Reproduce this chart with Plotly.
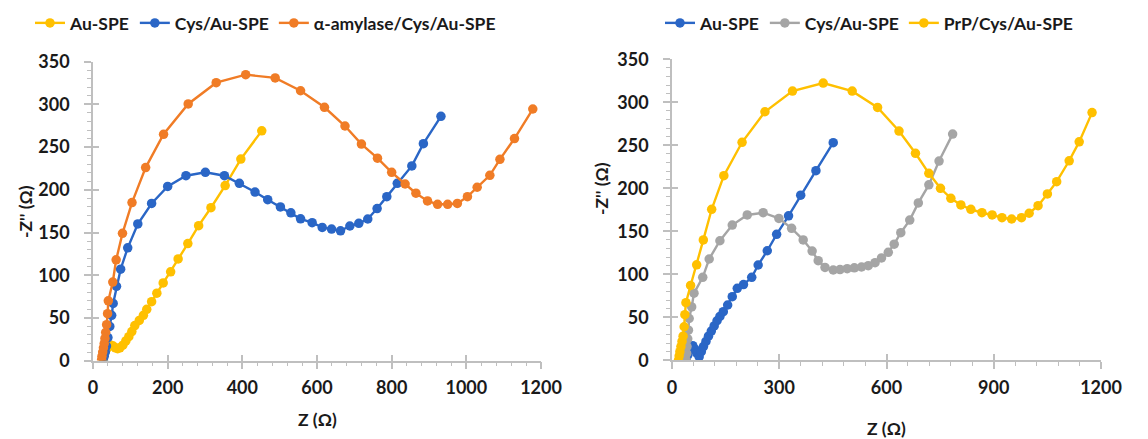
import plotly.graph_objects as go

# ---------------- data (left panel) ----------------
L_au_x = [27, 28, 30, 33, 37, 42, 48, 54, 60, 66, 72, 80, 88, 96, 104, 112, 124, 135, 144, 157, 171, 188, 208, 228, 254, 283, 316, 354, 396, 452]
L_au_y = [0, 3, 7, 11, 14, 17, 18, 17, 15, 14, 15, 18, 23, 28, 34, 41, 47, 53, 60, 69, 79, 91, 104, 119, 137, 158, 179, 205, 236, 269]

L_cys_x = [28, 30, 33, 36, 40, 45, 50, 54, 63, 74, 93, 120, 157, 200, 249, 301, 352, 392, 434, 468, 502, 530, 556, 587, 614, 639, 663, 688, 712, 736, 761, 787, 815, 854, 885, 932]
L_cys_y = [0, 5, 10, 17, 27, 40, 53, 67, 87, 107, 132, 160, 184, 204, 216.5, 220.5, 216.5, 207.6, 197.4, 188.4, 180, 173, 166, 161.5, 156, 154, 152, 157.6, 160.8, 165.8, 178, 192, 207.6, 228, 254, 286]

L_amy_x = [23, 24, 26, 28, 30, 32, 34, 36.5, 39, 41, 53, 62, 79, 104.5, 141, 189, 255, 330, 409, 488, 556, 620, 675, 719, 762, 800, 836, 865, 896, 923, 950, 976, 1003, 1029, 1063, 1090, 1129, 1178]
L_amy_y = [1, 5, 10, 15, 20, 26, 33, 42, 55, 70, 92, 118, 149, 185, 226, 265, 300.5, 325.4, 334.8, 331, 316, 296.6, 274.7, 253.6, 237, 220.5, 206.8, 196, 187, 183, 183, 184, 192, 203, 217, 235.7, 260, 294.6]

# ---------------- data (right panel) ----------------
R_au_x = [40, 44, 48, 53, 58, 64, 70, 76, 82, 88, 95, 102, 110, 118, 126, 134, 143.5, 155.7, 168.6, 182.6, 200, 223, 241, 266.5, 292.7, 326, 360, 402.6, 451]
R_au_y = [0, 6, 11, 15, 17, 13, 8, 4, 10, 16, 22, 28, 34, 40, 46, 51, 56.5, 64.3, 74, 83.7, 88, 96.5, 110.8, 127.4, 146.5, 168, 192, 220.5, 253]

R_cys_x = [40, 41, 42, 44, 46, 48, 55, 61.5, 86, 104, 134, 168.6, 210.5, 255, 299, 334.6, 367, 392, 409, 428, 451, 470, 490, 510, 530, 549, 568, 586, 605, 621.5, 640, 665, 689, 718.5, 747, 785]
R_cys_y = [0, 8, 16, 25, 35, 48.6, 62, 78, 96.5, 117.8, 139, 157.3, 169, 171.6, 165, 153.5, 140, 127, 115.8, 108, 105, 105.5, 106.5, 107.5, 108.5, 110, 113.5, 119, 125.6, 135, 148.4, 163, 183, 204, 231.7, 263]

R_prp_x = [18, 20, 22, 25, 28, 31, 34, 36, 39, 52, 69, 87.6, 111, 145, 196, 260, 337, 423, 504, 575, 635, 681, 718.5, 751, 780, 808, 836, 867, 895.5, 923, 950, 977.6, 999, 1024, 1050, 1076, 1111, 1139, 1175]
R_prp_y = [0, 5, 10, 16, 22, 28, 39, 53, 67, 87, 111, 140, 175.6, 214.7, 253.5, 289, 313, 322.4, 313, 294, 266.6, 240.7, 217.4, 200, 188.4, 180.6, 175.6, 171.6, 169, 165.8, 164.3, 165.8, 171, 179.8, 193.4, 207.7, 232, 254, 288]

YELLOW = "#FFC000"
BLUE = "#2A66C6"
ORANGE = "#F07C26"
GRAY = "#A5A5A5"
AXIS = "#BFBFBF"
FONT = "Lato"
W, H = 1148, 439

fig = go.Figure()

def add(x, y, name, color, xa, ya, legend):
    fig.add_trace(go.Scatter(
        x=x, y=y, name=name, mode="lines+markers",
        line=dict(color=color, width=2.4),
        marker=dict(color=color, size=9.5),
        xaxis=xa, yaxis=ya, legend=legend))

add(L_au_x, L_au_y, "Au-SPE", YELLOW, "x", "y", "legend")
add(L_cys_x, L_cys_y, "Cys/Au-SPE", BLUE, "x", "y", "legend")
add(L_amy_x, L_amy_y, "α-amylase/Cys/Au-SPE", ORANGE, "x", "y", "legend")
add(R_au_x, R_au_y, "Au-SPE", BLUE, "x2", "y2", "legend2")
add(R_cys_x, R_cys_y, "Cys/Au-SPE", GRAY, "x2", "y2", "legend2")
add(R_prp_x, R_prp_y, "PrP/Cys/Au-SPE", YELLOW, "x2", "y2", "legend2")

tickfont = dict(family=FONT, size=18, color="#1a1a1a", weight="bold")

xdomL = [93 / W, 541 / W]
xdomR = [672 / W, 1101 / W]
ydomL = [1 - 360.6 / H, 1 - 61.7 / H]
ydomR = [1 - 360.3 / H, 1 - 59.3 / H]

def xaxis(dom, anchor, dtick, minor):
    return dict(domain=dom, anchor=anchor, range=[0, 1200], dtick=dtick, tick0=0, automargin=False,
                showline=True, linecolor=AXIS, linewidth=1.5, showgrid=False, zeroline=False,
                ticks="outside", ticklen=7, tickwidth=1.5, tickcolor=AXIS,
                minor=dict(dtick=minor, ticks="outside", ticklen=4, tickcolor=AXIS, tickwidth=1.2, showgrid=False),
                tickfont=tickfont, ticklabelstandoff=3, fixedrange=True)

def yaxis(dom, anchor):
    return dict(domain=dom, anchor=anchor, range=[0, 350], dtick=50, tick0=0, automargin=False,
                showline=True, linecolor=AXIS, linewidth=1.5, showgrid=False, zeroline=False,
                ticks="outside", ticklen=7, tickwidth=1.5, tickcolor=AXIS,
                minor=dict(dtick=10, ticks="outside", ticklen=4, tickcolor=AXIS, tickwidth=1.2, showgrid=False),
                tickfont=tickfont, ticklabelstandoff=11, fixedrange=True)

def xover(over, anchor, dom, dtick):
    return dict(overlaying=over, anchor=anchor, domain=dom, range=[0, 1200], dtick=dtick, tick0=0,
                automargin=False, showline=False, showgrid=False, zeroline=False, showticklabels=False,
                ticks="inside", ticklen=6, tickwidth=1.5, tickcolor=AXIS, fixedrange=True)

def yover(over, anchor, dom):
    return dict(overlaying=over, anchor=anchor, domain=dom, range=[0, 350], dtick=50, tick0=0,
                automargin=False, showline=False, showgrid=False, zeroline=False, showticklabels=False,
                ticks="inside", ticklen=6, tickwidth=1.5, tickcolor=AXIS, fixedrange=True)

legfont = dict(family=FONT, size=17.5, color="#1a1a1a", weight="bold")

fig.update_layout(
    width=W, height=H, margin=dict(l=0, r=0, t=0, b=0, autoexpand=False),
    paper_bgcolor="white", plot_bgcolor="white",
    xaxis=xaxis(xdomL, "y", 200, 40),
    yaxis=yaxis(ydomL, "x"),
    xaxis2=xaxis(xdomR, "y2", 300, 60),
    yaxis2=yaxis(ydomR, "x2"),
    xaxis3=xover("x", "y", xdomL, 200),
    yaxis3=yover("y", "x", ydomL),
    xaxis4=xover("x2", "y2", xdomR, 300),
    yaxis4=yover("y2", "x2", ydomR),
    legend=dict(orientation="h", x=30 / W, y=1 - 23 / H, xanchor="left", yanchor="middle",
                font=legfont, bgcolor="rgba(0,0,0,0)", itemwidth=30),
    legend2=dict(orientation="h", x=660 / W, y=1 - 23 / H, xanchor="left", yanchor="middle",
                 font=legfont, bgcolor="rgba(0,0,0,0)", itemwidth=30),
    showlegend=True,
)

# dummy traces to activate overlay axes (crossing major ticks)
for xa, ya in (("x3", "y3"), ("x4", "y4")):
    fig.add_trace(go.Scatter(x=[None], y=[None], xaxis=xa, yaxis=ya, showlegend=False, hoverinfo="skip"))

title_font = dict(family=FONT, size=17.5, color="#1a1a1a", weight="bold")
def title(text, px, py, angle=0):
    fig.add_annotation(text=text, x=px / W, y=1 - py / H, xref="paper", yref="paper",
                       xanchor="center", yanchor="middle", textangle=angle,
                       showarrow=False, font=title_font)

title("-Z'' (Ω)", 26, 212, -90)
title("-Z'' (Ω)", 601, 189, -90)
title("Z (Ω)", 317, 419, 0)
title("Z (Ω)", 886, 428, 0)

fig.write_html("out.html", post_script="document.body.style.margin='0';",
               config={"displayModeBar": False})
